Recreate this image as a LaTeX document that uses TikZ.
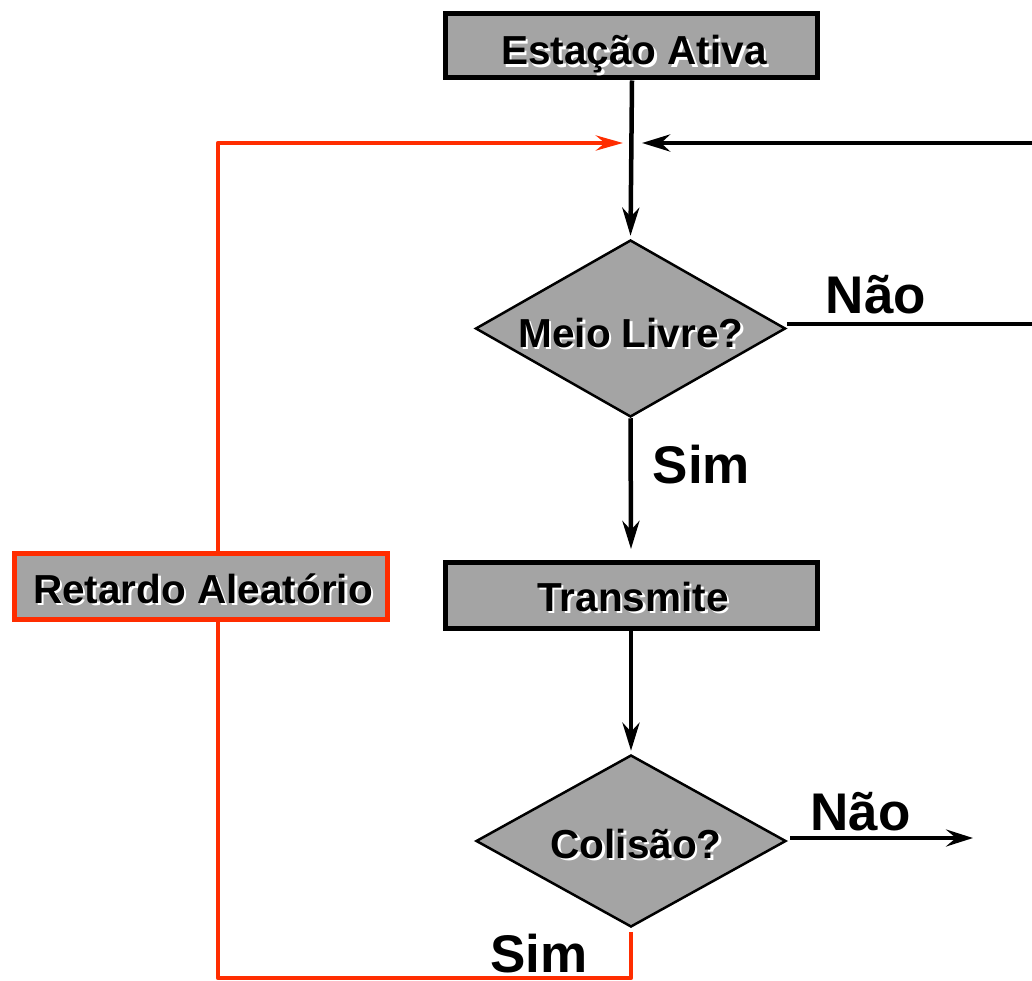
\documentclass[tikz,border=0pt]{standalone}
\usepackage{fontspec}
\setmainfont{Liberation Sans}
\usetikzlibrary{shapes.geometric,arrows.meta,calc}
\definecolor{boxgray}{RGB}{164,164,164}
\definecolor{myred}{RGB}{255,45,0}
\newcommand{\glowtext}[1]{\makebox[0pt][l]{\hspace{2.5pt}\raisebox{-2.5pt}{\textcolor{white}{#1}}}#1}
\tikzset{
  procbox/.style={draw=black, line width=5pt, fill=boxgray, rectangle, inner sep=0pt},
  redbox/.style={draw=myred, line width=5pt, fill=boxgray, rectangle, inner sep=0pt},
  decbox/.style={draw=black, line width=2.5pt, fill=boxgray, diamond, inner sep=0pt},
  boxtxt/.style={font=\fontsize{40.5}{48}\selectfont\bfseries, anchor=base, inner sep=0pt},
  bigtxt/.style={font=\fontsize{53}{60}\selectfont\bfseries, anchor=base, inner sep=0pt, text depth=0pt},
  flow/.style={line width=4.5pt, draw=black, -{Stealth[length=28pt,width=17pt,inset=9pt]}},
  redflow/.style={line width=4.5pt, draw=myred, line join=round},
  redarrow/.style={redflow, -{Stealth[length=27pt,width=15pt,inset=9pt]}},
  thinflow/.style={line width=4pt, draw=black, -{Stealth[length=27pt,width=17pt,inset=10pt]}},
}
\begin{document}
\begin{tikzpicture}[x=1pt,y=-1pt]
\useasboundingbox (0,0) rectangle (1032,981);
% nodes
\node[procbox, minimum width=372pt, minimum height=64pt] (ativa) at (631.5,46) {};
\node[procbox, minimum width=372pt, minimum height=66pt] (trans) at (631,595.5) {};
\node[redbox, minimum width=373pt, minimum height=66pt] (ret) at (201,586.5) {};
\node[decbox, minimum width=310pt, minimum height=177pt] (meio) at (630.5,328.5) {};
\node[decbox, minimum width=310pt, minimum height=172pt] (col) at (631,841) {};
% texts
\node[boxtxt] (tativa) at (634,65) {\glowtext{Estação Ativa}};
\node[boxtxt] (tmeio) at (631,347) {\glowtext{Meio Livre?}};
\node[boxtxt] (ttrans) at (633,611) {\glowtext{Transmite}};
\node[boxtxt] (tcol) at (636,858) {\glowtext{Colisão?}};
\node[boxtxt] (tret) at (203,603) {\glowtext{Retardo Aleatório}};
\node[bigtxt] (nao1) at (876,313) {Não};
\node[bigtxt] (sim1) at (701.5,483) {Sim};
\node[bigtxt] (nao2) at (860.5,830) {Não};
\node[bigtxt] (sim2) at (539,972) {Sim};
% coordinates
\coordinate (j) at (632,143);
\coordinate (rtip) at (623,143);
\coordinate (btip) at (642,143);
\coordinate (rcorner) at (218,143);
\coordinate (rightend) at (1032,143);
\coordinate (meioright) at (1032,324);
\coordinate (colstart) at (790,838);
\coordinate (colend) at (973,838);
\coordinate (bl) at (218,978);
\coordinate (br) at (631,978);
% connectors
\draw[flow] (ativa.south -| j) -- ($(meio.north)+(0,-3)$);
\draw[flow] (meio.south) -- ($(trans.north)+(0,-11)$);
\draw[flow] (trans.south) -- ($(col.north)+(0,-3)$);
\draw[line width=4.5pt] (meio.east |- meioright) -- (meioright);
\draw[flow] (rightend) -- (btip);
\draw[thinflow] (colstart) -- (colend);
\draw[redarrow] (ret.north -| rcorner) -- (rcorner) -- (rtip);
\draw[redflow] ($(col.south)+(0,4)$) -- (br) -- (bl) -- (ret.south -| bl);
\end{tikzpicture}
\end{document}
